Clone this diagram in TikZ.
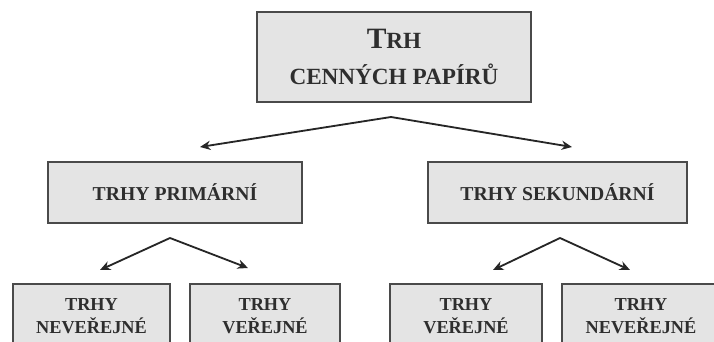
\documentclass[tikz,border=0pt]{standalone}
\usepackage{fontspec}
\setmainfont{Liberation Serif}
\usepackage{tikz}
\usetikzlibrary{arrows.meta}
\definecolor{boxfill}{HTML}{E4E4E4}
\definecolor{boxline}{HTML}{4A4A4A}
\definecolor{boxtext}{HTML}{2E2E2E}
\tikzset{
    every node/.style={rectangle, inner sep=0mm, draw=boxline, line width=1.5pt, fill=boxfill, text=boxtext, font=\bfseries, align=center}
}
\tikzset{top/.style={minimum width=6.85cm, minimum height=2.25cm, font=\bfseries\fontsize{16.5}{25}\selectfont}}
\tikzset{mid/.style={minimum height=1.525cm, font=\bfseries\fontsize{14}{17}\selectfont}}
\tikzset{low/.style={minimum height=1.6cm, font=\bfseries\fontsize{13}{16.3}\selectfont}}
\tikzset{arr/.style={-{Stealth[length=2.6mm, width=2.3mm]}, line width=1.3pt, color=black!85}}

\begin{document}
\begin{tikzpicture}
    \clip (0cm, 0cm) rectangle (17.85cm, -8.55cm);

    \node (trh) [top] at (9.85cm, -1.425cm) {{\fontsize{21}{25}\selectfont T}RH\\CENNÝCH PAPÍRŮ};

    \node (prim) [mid, minimum width=6.35cm] at (4.375cm, -4.8125cm) {TRHY PRIMÁRNÍ};
    \node (sek) [mid, minimum width=6.475cm] at (13.9375cm, -4.8125cm) {TRHY SEKUNDÁRNÍ};

    \node (pn) [low, minimum width=3.925cm] at (2.2875cm, -7.9cm) {TRHY\\NEVEŘEJNÉ};
    \node (pv) [low, minimum width=3.75cm] at (6.625cm, -7.9cm) {TRHY\\VEŘEJNÉ};
    \node (sv) [low, minimum width=3.8cm] at (11.65cm, -7.9cm) {TRHY\\VEŘEJNÉ};
    \node (sn) [low, minimum width=3.95cm] at (16.025cm, -7.9cm) {TRHY\\NEVEŘEJNÉ};

    \coordinate (trh0) at (9.775cm, -2.925cm);
    \coordinate (prim0) at (5.0cm, -3.675cm);
    \coordinate (sek0) at (14.3cm, -3.675cm);

    \coordinate (prim1) at (4.25cm, -5.95cm);
    \coordinate (pn0) at (2.5cm, -6.75cm);
    \coordinate (pv0) at (6.2cm, -6.7cm);

    \coordinate (sek1) at (14.0cm, -5.95cm);
    \coordinate (sv0) at (12.325cm, -6.75cm);
    \coordinate (sn0) at (15.75cm, -6.75cm);

    \draw (trh0) edge [arr] (prim0);
    \draw (trh0) edge [arr] (sek0);

    \draw (prim1) edge [arr] (pn0);
    \draw (prim1) edge [arr] (pv0);

    \draw (sek1) edge [arr] (sv0);
    \draw (sek1) edge [arr] (sn0);
\end{tikzpicture}
\end{document}
